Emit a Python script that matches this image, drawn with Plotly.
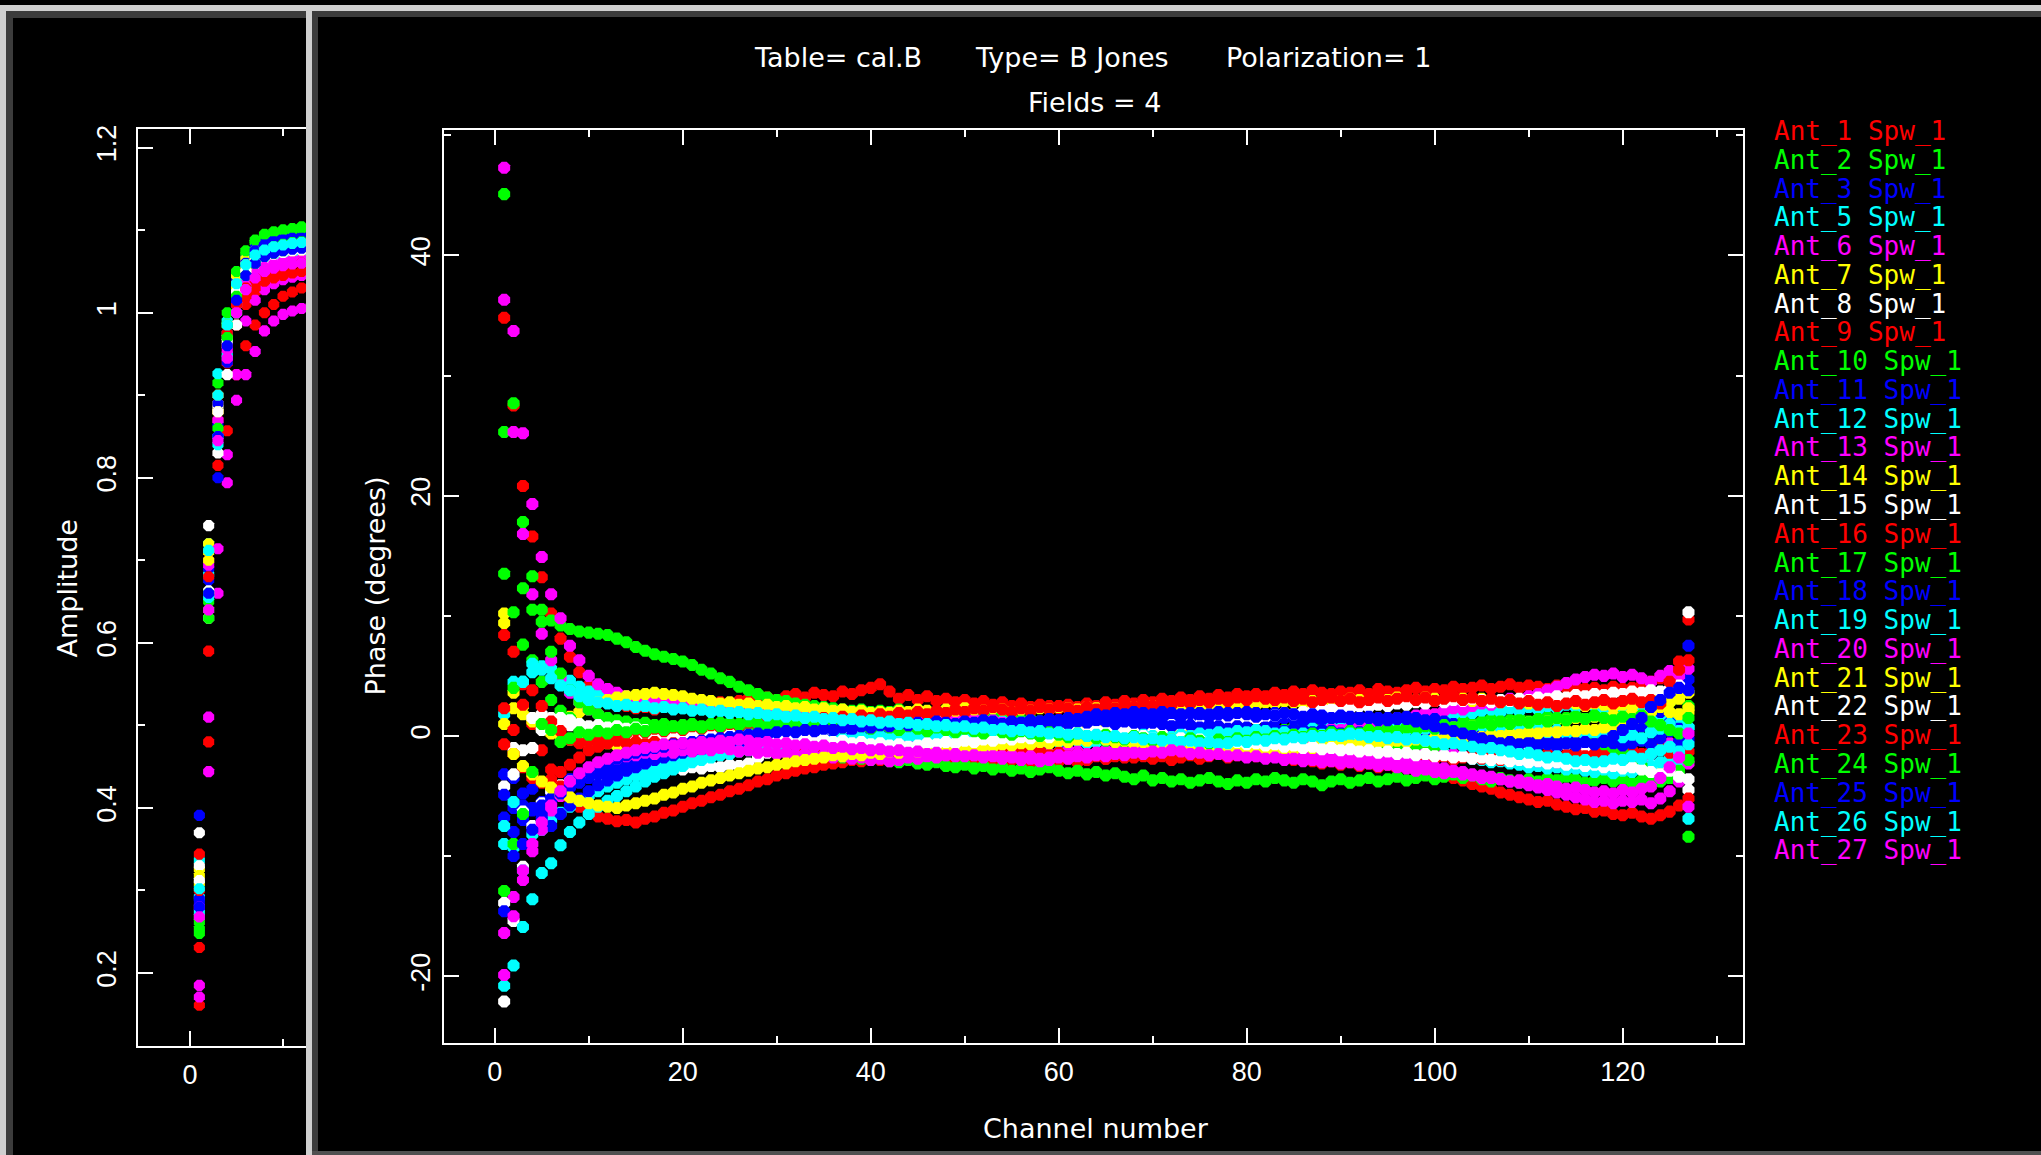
import plotly.graph_objects as go

FIG_W, FIG_H = 2041, 1155

# ---------------- data ----------------
channels = list(range(1, 128))
amp_channels = list(range(1, 14))

antenna_names = ["Ant_1", "Ant_2", "Ant_3", "Ant_5", "Ant_6", "Ant_7", "Ant_8", "Ant_9",
                 "Ant_10", "Ant_11", "Ant_12", "Ant_13", "Ant_14", "Ant_15", "Ant_16",
                 "Ant_17", "Ant_18", "Ant_19", "Ant_20", "Ant_21", "Ant_22", "Ant_23",
                 "Ant_24", "Ant_25", "Ant_26", "Ant_27"]
spw_label = "Spw_1"
antenna_colors = ["#ff0000", "#00ff00", "#0000ff", "#00ffff", "#ff00ff", "#ffff00", "#ffffff",
                  "#ff0000", "#00ff00", "#0000ff", "#00ffff", "#ff00ff", "#ffff00", "#ffffff",
                  "#ff0000", "#00ff00", "#0000ff", "#00ffff", "#ff00ff", "#ffff00", "#ffffff",
                  "#ff0000", "#00ff00", "#0000ff", "#00ffff", "#ff00ff"]

phase_ant01 = [34.8, 27.5, 20.8, 16.6, 13.2, 10.2, 8.1, 6.6, 5.3, 4.2,
               3.5, 3.0, 2.7, 2.5, 2.3, 2.4, 2.2, 2.5, 2.3, 2.6,
               2.4, 2.7, 2.5, 2.8, 2.6, 2.9, 3.1, 2.8, 3.2, 3.0,
               3.3, 3.5, 3.2, 3.6, 3.4, 3.3, 3.7, 3.5, 3.8, 4.0,
               4.3, 3.7, 3.1, 3.4, 3.0, 3.3, 2.9, 3.1, 2.8, 3.0,
               2.7, 2.9, 2.6, 2.8, 2.5, 2.7, 2.4, 2.6, 2.5, 2.3,
               2.6, 2.4, 2.7, 2.5, 2.8, 2.6, 2.9, 2.7, 3.0, 2.8,
               3.1, 2.9, 3.2, 3.0, 3.3, 3.1, 3.4, 3.2, 3.5, 3.3,
               3.5, 3.3, 3.6, 3.4, 3.7, 3.5, 3.8, 3.6, 3.5, 3.7,
               3.6, 3.8, 3.5, 3.9, 3.7, 3.6, 3.8, 4.0, 3.7, 3.9,
               3.8, 4.1, 3.9, 4.0, 4.2, 3.9, 4.1, 4.3, 4.0, 4.2,
               4.1, 3.9, 4.2, 4.0, 4.1, 3.9, 4.0, 3.8, 4.1, 3.9,
               4.0, 4.2, 4.5, 4.8, 5.3, 6.2, 9.7]
phase_ant02 = [45.1, 27.7, 17.8, 13.3, 10.5, 9.6, 9.2, 8.9, 8.7, 8.6,
               8.5, 8.4, 8.1, 7.8, 7.4, 7.1, 6.8, 6.6, 6.4, 6.2,
               5.9, 5.5, 5.2, 4.8, 4.5, 4.1, 3.8, 3.5, 3.2, 3.0,
               2.9, 2.7, 2.6, 2.5, 2.4, 2.3, 2.2, 2.1, 2.2, 2.0,
               2.1, 2.0, 2.2, 1.9, 2.0, 1.8, 1.9, 1.7, 1.8, 1.6,
               1.7, 1.5, 1.6, 1.4, 1.5, 1.3, 1.4, 1.2, 1.3, 1.1,
               1.2, 1.0, 1.1, 0.9, 1.0, 0.8, 0.9, 0.7, 0.8, 0.6,
               0.7, 0.5, 0.6, 0.4, 0.5, 0.3, 0.4, 0.6, 0.3, 0.5,
               0.4, 0.6, 0.3, 0.5, 0.7, 0.4, 0.6, 0.8, 0.5, 0.7,
               0.9, 0.6, 0.8, 1.0, 0.7, 0.9, 1.1, 0.8, 1.0, 1.2,
               0.9, 1.1, 1.3, 1.0, 1.2, 1.4, 1.1, 1.3, 1.5, 1.2,
               1.4, 1.6, 1.3, 1.5, 1.7, 1.4, 1.6, 1.8, 2.0, 1.7,
               1.9, 2.2, 2.0, 2.4, 2.8, 3.2, 2.5]
phase_ant03 = [-3.2, -6.0, -7.0, -4.4, -5.5, -4.8, -4.2, -3.6, -3.2, -2.9,
               -2.6, -2.3, -2.0, -1.8, -1.6, -1.4, -1.5, -1.3, -1.2, -1.1,
               -1.0, -0.9, -0.8, -0.9, -0.7, -0.6, -0.5, -0.6, -0.4, -0.3,
               -0.2, -0.3, -0.1, 0.0, 0.1, 0.0, 0.2, 0.3, 0.2, 0.4,
               0.5, 0.4, 0.6, 0.5, 0.7, 0.6, 0.8, 0.7, 0.9, 0.8,
               1.0, 0.9, 1.1, 1.0, 1.2, 1.1, 1.3, 1.2, 1.4, 1.3,
               1.5, 1.4, 1.6, 1.5, 1.7, 1.6, 1.5, 1.7, 1.6, 1.4,
               1.6, 1.5, 1.7, 1.5, 1.4, 1.6, 1.5, 1.3, 1.5, 1.4,
               1.6, 1.4, 1.3, 1.5, 1.4, 1.2, 1.4, 1.3, 1.5, 1.3,
               1.2, 1.4, 1.3, 1.1, 1.3, 1.2, 1.0, 1.2, 1.1, 0.9,
               0.8, 0.6, 0.4, 0.2, 0.0, -0.2, -0.3, -0.1, -0.4, -0.2,
               -0.5, -0.3, -0.6, -0.4, -0.7, -0.5, -0.3, -0.6, -0.4, -0.2,
               0.3, 0.8, 1.4, 1.0, 3.8, 4.2, 4.7]
phase_ant05 = [1.8, 4.5, 4.5, 5.3, 5.8, 5.6, 5.1, 4.6, 4.1, 3.7,
               3.4, 3.1, 2.9, 2.8, 2.7, 2.5, 2.6, 2.4, 2.5, 2.3,
               2.4, 2.2, 2.3, 2.1, 2.2, 2.0, 2.1, 1.9, 2.0, 1.8,
               1.9, 2.0, 1.8, 1.9, 1.7, 1.8, 1.9, 1.7, 1.8, 1.6,
               1.7, 1.5, 1.6, 1.7, 1.5, 1.6, 1.4, 1.5, 1.3, 1.4,
               1.2, 1.3, 1.1, 1.2, 1.0, 1.1, 0.9, 1.0, 0.8, 0.9,
               0.7, 0.8, 0.6, 0.7, 0.5, 0.6, 0.4, 0.5, 0.3, 0.4,
               0.2, 0.3, 0.1, 0.2, 0.0, 0.1, -0.1, 0.0, 0.2, 0.1,
               0.3, 0.2, 0.4, 0.3, 0.5, 0.4, 0.6, 0.5, 0.7, 0.6,
               0.8, 0.7, 0.9, 1.0, 1.2, 1.1, 1.3, 1.4, 1.6, 1.5,
               1.7, 1.8, 2.0, 1.9, 2.1, 2.2, 2.0, 2.3, 2.1, 2.4,
               2.2, 2.5, 2.3, 2.6, 2.4, 2.7, 2.5, 2.3, 2.6, 2.4,
               2.2, 2.0, 1.7, 1.4, 1.2, 1.0, 0.7]
phase_ant06 = [47.3, 33.7, 25.2, 19.3, 14.9, 11.8, 9.8, 7.5, 6.3, 5.0,
               4.3, 3.9, 3.6, 3.3, 3.1, 3.2, 3.0, 2.9, 3.1, 2.8,
               2.9, 2.7, 2.8, 2.6, 2.7, 2.5, 2.6, 2.4, 2.5, 2.3,
               2.4, 2.2, 2.3, 2.1, 2.2, 2.0, 2.1, 1.9, 2.0, 1.8,
               1.9, 1.7, 1.8, 1.6, 1.7, 1.5, 1.6, 1.4, 1.5, 1.3,
               1.4, 1.2, 1.3, 1.1, 1.2, 1.0, 1.1, 0.9, 1.0, 0.8,
               0.9, 0.7, 0.8, 0.6, 0.7, 0.5, 0.6, 0.4, 0.5, 0.3,
               0.4, 0.2, 0.3, 0.1, 0.2, 0.0, 0.1, -0.1, 0.0, -0.2,
               -0.1, 0.1, 0.0, 0.2, 0.1, 0.3, 0.2, 0.4, 0.6, 0.5,
               0.7, 0.9, 1.1, 1.0, 1.3, 1.5, 1.4, 1.7, 1.9, 1.8,
               2.1, 2.3, 2.2, 2.5, 2.7, 2.6, 2.9, 3.1, 3.0, 3.3,
               3.5, 3.8, 4.1, 4.4, 4.7, 4.9, 5.1, 5.0, 5.2, 4.9,
               5.1, 4.8, 4.5, 5.0, 5.4, 5.0, 5.6]
phase_ant07 = [10.2, 3.6, 2.5, 1.5, 1.0, 0.8, 1.2, 1.6, 2.0, 2.5,
               2.8, 3.0, 3.2, 3.3, 3.4, 3.5, 3.6, 3.5, 3.4, 3.3,
               3.1, 3.0, 2.9, 2.7, 2.8, 2.6, 2.7, 2.5, 2.6, 2.4,
               2.5, 2.3, 2.4, 2.2, 2.3, 2.1, 2.2, 2.0, 2.1, 1.9,
               2.0, 1.9, 2.1, 2.0, 2.2, 2.1, 2.0, 2.2, 2.1, 2.3,
               2.2, 2.1, 2.3, 2.2, 2.0, 2.2, 2.1, 2.3, 2.2, 2.4,
               2.3, 2.2, 2.4, 2.3, 2.1, 2.3, 2.2, 2.4, 2.3, 2.5,
               2.4, 2.3, 2.5, 2.4, 2.6, 2.5, 2.4, 2.6, 2.5, 2.7,
               2.6, 2.8, 2.7, 2.9, 2.8, 2.7, 2.9, 2.8, 3.0, 2.9,
               3.1, 3.0, 2.9, 3.1, 3.0, 3.2, 3.1, 3.0, 3.2, 3.1,
               3.0, 3.2, 3.1, 2.9, 3.1, 3.0, 2.8, 3.0, 2.9, 2.7,
               2.9, 2.8, 2.6, 2.8, 2.7, 2.5, 2.7, 2.6, 2.4, 2.6,
               2.5, 2.8, 3.1, 3.5, 2.8, 3.2, 3.6]
phase_ant08 = [-22.1, -15.4, -10.9, -7.5, -5.6, -4.6, -4.1, -3.8, -3.6, -3.4,
               -3.3, -3.1, -3.2, -3.0, -2.9, -3.0, -2.8, -2.9, -2.7, -2.8,
               -2.6, -2.7, -2.5, -2.6, -2.4, -2.5, -2.3, -1.8, -1.4, -1.1,
               -0.9, -0.8, -0.6, -0.7, -0.5, -0.4, -0.5, -0.3, -0.4, -0.2,
               -0.3, -0.1, -0.2, 0.0, -0.1, 0.1, 0.0, 0.2, 0.1, 0.3,
               0.2, 0.4, 0.3, 0.5, 0.4, 0.6, 0.5, 0.4, 0.6, 0.5,
               0.7, 0.6, 0.5, 0.7, 0.6, 0.4, 0.6, 0.5, 0.7, 0.6,
               0.5, 0.7, 0.6, 0.4, 0.6, 0.5, 0.3, 0.5, 0.4, 0.2,
               0.4, 0.3, 0.1, 0.3, 0.2, 0.0, 0.2, 0.1, -0.1, 0.1,
               0.0, -0.2, 0.0, -0.1, -0.3, -0.1, -0.2, -0.4, -0.2, -0.3,
               -0.5, -0.3, -0.4, -0.6, -0.4, -0.5, -0.7, -0.5, -0.6, -0.8,
               -0.6, -0.7, -0.9, -0.7, -0.8, -1.0, -0.8, -0.9, -1.1, -1.3,
               -1.6, -2.0, -2.4, -2.8, -3.2, -3.4, -4.5]
phase_ant09 = [8.4, 7.0, 4.3, 1.0, -1.2, -2.8, -4.2, -5.2, -5.9, -6.4,
               -6.7, -6.9, -7.1, -7.0, -7.2, -6.9, -6.7, -6.4, -6.2, -5.9,
               -5.6, -5.4, -5.1, -4.9, -4.6, -4.4, -4.1, -3.8, -3.6, -3.3,
               -3.1, -2.9, -2.7, -2.6, -2.4, -2.3, -2.2, -2.0, -2.1, -1.9,
               -2.0, -1.8, -2.1, -1.9, -2.2, -2.0, -1.8, -2.1, -1.9, -2.2,
               -2.0, -1.8, -2.1, -2.3, -2.0, -1.9, -2.2, -2.0, -1.8, -2.1,
               -1.9, -2.2, -2.0, -1.7, -1.9, -1.6, -1.8, -1.5, -1.7, -1.4,
               -1.6, -1.3, -1.5, -1.2, -1.4, -1.3, -1.1, -1.4, -1.2, -1.5,
               -1.4, -1.7, -1.5, -1.8, -2.0, -1.8, -2.1, -2.3, -2.1, -2.4,
               -2.2, -2.5, -2.3, -2.6, -2.4, -2.7, -2.5, -2.8, -2.9, -3.1,
               -3.3, -3.5, -3.7, -4.0, -4.2, -4.4, -4.7, -4.9, -5.1, -5.3,
               -5.5, -5.4, -5.7, -5.9, -6.1, -6.0, -6.3, -6.2, -6.5, -6.6,
               -6.4, -6.7, -6.9, -6.6, -6.3, -5.8, -5.2]
phase_ant10 = [25.3, 10.3, 7.6, 6.3, 4.5, 3.0, 2.1, 1.5, 1.0, 0.7,
               0.5, 0.3, 0.1, -0.1, -0.2, -0.4, -0.3, -0.5, -0.6, -0.5,
               -0.7, -0.8, -0.6, -0.9, -1.0, -0.8, -1.1, -1.2, -1.0, -1.3,
               -1.4, -1.2, -1.5, -1.6, -1.4, -1.7, -1.8, -1.6, -1.9, -2.0,
               -1.8, -2.1, -2.2, -2.0, -2.3, -2.4, -2.2, -2.5, -2.6, -2.4,
               -2.7, -2.5, -2.8, -2.6, -2.9, -2.7, -3.0, -2.8, -2.6, -2.9,
               -3.1, -2.9, -3.2, -3.0, -3.3, -3.1, -3.4, -3.6, -3.3, -3.7,
               -3.5, -3.8, -3.6, -3.9, -3.7, -3.5, -3.8, -4.0, -3.7, -3.9,
               -3.6, -3.8, -3.5, -3.7, -3.9, -3.6, -3.8, -4.1, -3.8, -3.6,
               -3.9, -3.7, -3.5, -3.8, -3.6, -3.4, -3.7, -3.5, -3.3, -3.6,
               -3.4, -3.2, -3.5, -3.3, -3.6, -3.8, -3.5, -3.7, -3.9, -3.6,
               -3.8, -3.5, -3.7, -3.4, -3.6, -3.9, -3.7, -3.5, -3.8, -3.6,
               -3.9, -3.7, -3.4, -3.8, -3.5, -3.6, -8.4]
phase_ant11 = [-6.8, -8.0, -5.8, -6.2, -5.8, -5.2, -4.8, -4.3, -3.9, -3.5,
               -3.2, -2.9, -2.6, -2.4, -2.1, -1.9, -1.8, -1.6, -1.4, -1.3,
               -1.2, -1.1, -1.0, -0.9, -0.8, -0.7, -0.6, -0.5, -0.6, -0.4,
               -0.3, -0.4, -0.2, -0.3, -0.1, -0.2, 0.0, -0.1, 0.1, 0.0,
               0.2, 0.1, 0.3, 0.2, 0.4, 0.3, 0.5, 0.4, 0.6, 0.5,
               0.7, 0.6, 0.8, 0.7, 0.9, 0.8, 1.0, 0.9, 1.1, 1.0,
               1.2, 1.1, 1.3, 1.2, 1.4, 1.3, 1.5, 1.4, 1.6, 1.5,
               1.7, 1.6, 1.8, 1.7, 1.9, 1.8, 2.0, 1.9, 1.8, 2.0,
               1.9, 1.7, 1.9, 1.8, 1.6, 1.8, 1.7, 1.5, 1.7, 1.6,
               1.4, 1.6, 1.5, 1.3, 1.5, 1.4, 1.6, 1.5, 1.3, 1.4,
               1.2, 1.0, 0.8, 0.6, 0.4, 0.5, 0.3, 0.1, 0.2, 0.0,
               0.2, 0.0, -0.2, 0.1, -0.1, 0.2, 0.4, 0.7, 1.0, 1.3,
               1.6, 0.9, 0.5, 2.0, 1.1, 0.6, 7.5]
phase_ant12 = [-9.0, -9.3, -11.2, -8.2, -7.8, -7.0, -6.4, -5.9, -5.4, -5.0,
               -4.6, -4.2, -3.9, -3.6, -3.3, -3.0, -2.8, -2.5, -2.3, -2.1,
               -1.9, -1.7, -1.6, -1.4, -1.3, -1.2, -1.1, -1.0, -0.9, -1.0,
               -0.8, -0.9, -0.7, -0.8, -0.6, -0.7, -0.5, -0.6, -0.8, -0.7,
               -0.9, -0.8, -0.6, -0.7, -0.9, -0.8, -0.6, -0.7, -0.5, -0.6,
               -0.8, -0.7, -0.5, -0.6, -0.4, -0.5, -0.7, -0.6, -0.4, -0.5,
               -0.3, -0.4, -0.6, -0.5, -0.3, -0.4, -0.2, -0.3, -0.5, -0.4,
               -0.2, -0.3, -0.1, -0.2, -0.4, -0.3, -0.1, -0.2, 0.0, -0.1,
               -0.3, -0.2, 0.0, -0.1, -0.3, -0.2, -0.4, -0.3, -0.5, -0.4,
               -0.6, -0.5, -0.7, -0.6, -0.8, -0.7, -0.9, -1.0, -1.2, -1.3,
               -1.4, -1.6, -1.7, -1.9, -2.0, -2.2, -2.1, -2.3, -2.4, -2.6,
               -2.5, -2.7, -2.6, -2.8, -2.7, -2.9, -3.0, -2.8, -3.1, -2.9,
               -3.0, -2.7, -2.5, -2.2, -1.8, -2.4, -6.9]
phase_ant13 = [36.3, 25.3, 16.8, 11.8, 8.5, 6.3, 4.8, 3.6, 2.8, 2.2,
               1.8, 1.4, 1.1, 0.9, 0.7, 0.6, 0.4, 0.5, 0.3, 0.4,
               0.2, 0.3, 0.1, 0.2, 0.0, 0.1, -0.1, 0.0, -0.2, -0.1,
               -0.3, -0.2, -0.4, -0.3, -0.5, -0.4, -0.6, -0.5, -0.7, -0.6,
               -0.8, -0.7, -0.9, -0.8, -1.0, -0.9, -1.1, -1.0, -1.2, -1.1,
               -1.3, -1.2, -1.4, -1.3, -1.1, -1.2, -1.4, -1.3, -1.5, -1.4,
               -1.2, -1.3, -1.5, -1.4, -1.2, -1.3, -1.1, -1.2, -1.0, -1.1,
               -0.9, -1.0, -0.8, -0.9, -0.7, -0.8, -0.6, -0.7, -0.5, -0.6,
               -0.4, -0.5, -0.7, -0.6, -0.8, -0.7, -0.9, -0.8, -1.0, -0.9,
               -1.1, -1.0, -1.2, -1.1, -1.3, -1.2, -1.4, -1.3, -1.5, -1.4,
               -1.6, -1.5, -1.7, -1.6, -1.8, -1.7, -1.9, -1.8, -2.0, -1.9,
               -2.1, -2.0, -2.2, -2.1, -1.9, -2.0, -1.8, -1.9, -1.7, -1.8,
               -1.6, -1.9, -1.5, -1.1, -0.6, -1.2, -2.3]
phase_ant14 = [9.4, 2.3, 1.8, 1.2, 0.6, 0.2, 0.0, -0.3, -0.5, -0.6,
               -0.7, -0.6, -0.8, -0.7, -0.5, -0.6, -0.4, -0.5, -0.3, -0.4,
               -0.2, -0.3, -0.1, -0.2, 0.0, -0.1, 0.1, 0.0, 0.2, 0.1,
               0.3, 0.2, 0.4, 0.3, 0.5, 0.4, 0.6, 0.5, 0.4, 0.6,
               0.5, 0.3, 0.5, 0.4, 0.2, 0.4, 0.3, 0.1, 0.3, 0.2,
               0.0, 0.2, 0.1, -0.1, 0.1, 0.0, 0.2, 0.1, 0.3, 0.2,
               0.4, 0.3, 0.5, 0.4, 0.6, 0.5, 0.7, 0.6, 0.8, 0.7,
               0.9, 0.8, 0.6, 0.7, 0.5, 0.6, 0.4, 0.5, 0.3, 0.4,
               0.2, 0.3, 0.1, 0.2, 0.0, 0.1, -0.1, 0.0, 0.2, 0.1,
               0.3, 0.2, 0.4, 0.3, 0.5, 0.4, 0.6, 0.5, 0.7, 0.6,
               0.8, 0.7, 0.9, 0.8, 1.0, 0.9, 1.1, 1.0, 1.2, 1.1,
               1.3, 1.2, 1.4, 1.3, 1.5, 1.4, 1.6, 1.5, 1.7, 1.6,
               1.9, 1.5, 2.1, 2.5, 2.0, 1.8, 2.3]
phase_ant15 = [-4.2, -1.0, -1.2, 1.5, 1.8, 1.5, 1.2, 0.9, 0.7, 0.5,
               0.4, 0.2, 0.1, 0.0, -0.1, 0.0, -0.2, -0.1, -0.3, -0.2,
               -0.4, -0.3, -0.5, -0.4, -0.6, -0.5, -0.4, -0.6, -0.5, -0.3,
               -0.4, -0.2, -0.3, -0.1, -0.2, 0.0, -0.1, 0.1, 0.0, 0.2,
               0.1, 0.0, 0.2, 0.1, -0.1, 0.1, 0.0, 0.2, 0.1, 0.0,
               0.1, -0.1, 0.0, 0.2, 0.1, -0.1, 0.0, 0.2, 0.1, 0.3,
               0.2, 0.4, 0.3, 0.5, 0.4, 0.6, 0.5, 0.7, 0.6, 0.8,
               0.7, 0.9, 0.8, 1.0, 0.9, 1.1, 1.0, 1.2, 1.3, 1.5,
               1.4, 1.6, 1.7, 1.9, 1.8, 2.0, 2.1, 2.3, 2.2, 2.4,
               2.3, 2.5, 2.4, 2.6, 2.5, 2.7, 2.6, 2.8, 2.7, 2.9,
               2.8, 3.0, 2.9, 3.1, 3.0, 2.8, 3.0, 2.9, 3.1, 3.0,
               3.2, 3.1, 3.3, 3.2, 3.4, 3.3, 3.5, 3.4, 3.6, 3.5,
               3.7, 3.6, 3.8, 3.7, 3.9, 4.2, 10.3]
phase_ant16 = [2.3, -1.5, -2.6, -3.5, -3.9, -3.6, -3.0, -2.4, -1.8, -1.2,
               -0.9, -0.6, -0.4, -0.6, -0.5, -0.7, -0.5, -0.8, -0.6, -0.9,
               -0.7, -1.0, -0.8, -1.1, -0.9, -1.2, -1.0, -1.3, -1.1, -1.4,
               -1.2, -1.5, -1.3, -1.6, -1.4, -1.7, -1.5, -1.3, -1.6, -1.4,
               -1.7, -1.5, -1.3, -1.6, -1.4, -1.2, -1.5, -1.3, -1.6, -1.4,
               -1.2, -1.5, -1.3, -1.1, -1.4, -1.2, -1.5, -1.3, -1.6, -1.4,
               -1.7, -1.5, -1.8, -1.6, -1.9, -1.7, -1.5, -1.8, -1.6, -1.9,
               -1.7, -2.0, -1.8, -1.6, -1.9, -1.7, -1.5, -1.8, -1.6, -1.4,
               -1.7, -1.5, -1.3, -1.6, -1.4, -1.2, -1.5, -1.3, -1.1, -1.4,
               -1.2, -1.5, -1.3, -1.6, -1.4, -1.7, -1.5, -1.8, -1.6, -1.9,
               -1.7, -2.0, -1.8, -1.6, -1.9, -1.7, -2.0, -1.8, -1.6, -1.9,
               -1.7, -1.5, -1.8, -1.6, -1.4, -1.7, -1.5, -1.3, -1.6, -1.4,
               -1.2, -1.5, -1.3, -1.0, -1.4, -1.1, -1.3]
phase_ant17 = [13.5, 4.0, 12.3, 10.5, 9.5, 7.0, 5.2, 3.8, 2.8, 2.2,
               1.8, 1.5, 1.3, 1.2, 1.0, 1.1, 0.9, 1.0, 0.8, 0.9,
               1.0, 0.8, 0.9, 1.1, 0.9, 1.0, 0.8, 1.1, 0.9, 1.2,
               1.0, 1.1, 0.9, 1.2, 1.0, 0.8, 1.1, 0.9, 1.2, 1.0,
               0.8, 1.0, 0.7, 0.9, 0.6, 0.8, 0.5, 0.7, 0.4, 0.6,
               0.3, 0.5, 0.2, 0.4, 0.1, 0.3, 0.0, 0.2, -0.1, 0.1,
               -0.2, 0.0, -0.3, -0.1, -0.4, -0.2, -0.5, -0.3, -0.6, -0.4,
               -0.7, -0.5, -0.8, -0.6, -0.9, -0.7, -1.0, -0.8, -1.1, -0.9,
               -1.2, -1.0, -1.3, -1.1, -1.4, -1.2, -1.0, -1.3, -1.1, -0.9,
               -1.2, -1.0, -0.8, -1.1, -0.9, -0.7, -1.0, -0.8, -0.6, -0.9,
               -0.7, -0.5, -0.8, -0.6, -0.4, -0.7, -0.5, -0.3, -0.6, -0.4,
               -0.2, -0.5, -0.3, -0.1, -0.4, -0.2, -0.5, -0.7, -1.0, -1.4,
               -1.8, -2.5, -3.8, -3.2, -3.5, -2.9, -2.0]
phase_ant18 = [-4.9, -3.5, -4.8, -6.0, -7.0, -7.5, -6.5, -5.8, -5.2, -4.6,
               -4.1, -3.7, -3.3, -2.9, -2.6, -2.3, -2.0, -1.8, -1.6, -1.4,
               -1.3, -1.2, -1.0, -1.1, -0.9, -0.8, -0.9, -0.7, -0.6, -0.7,
               -0.5, -0.4, -0.5, -0.3, -0.2, -0.3, -0.1, 0.0, -0.1, 0.1,
               0.0, 0.2, 0.1, 0.3, 0.2, 0.4, 0.3, 0.5, 0.4, 0.6,
               0.5, 0.7, 0.6, 0.8, 0.7, 0.9, 0.8, 1.0, 0.9, 1.1,
               1.0, 1.2, 1.1, 1.3, 1.2, 1.0, 1.2, 1.1, 0.9, 1.1,
               1.0, 0.8, 1.0, 0.9, 0.7, 0.9, 0.8, 0.6, 0.8, 0.7,
               0.5, 0.7, 0.6, 0.4, 0.6, 0.5, 0.3, 0.5, 0.4, 0.2,
               0.4, 0.3, 0.1, 0.3, 0.2, 0.0, 0.2, 0.1, -0.1, 0.1,
               0.0, -0.2, 0.0, -0.1, -0.3, -0.1, -0.2, -0.4, -0.2, -0.3,
               -0.5, -0.3, -0.4, -0.6, -0.4, -0.5, -0.7, -0.5, -0.6, -0.8,
               -0.6, -0.4, -0.7, -0.2, 0.4, -0.5, -0.3]
phase_ant19 = [-20.8, -19.1, -15.9, -13.6, -11.4, -10.6, -9.1, -8.0, -7.2, -6.5,
               -5.9, -5.4, -5.0, -4.6, -4.2, -3.8, -3.4, -3.1, -2.8, -2.5,
               -2.2, -2.0, -1.8, -1.6, -1.5, -1.3, -1.2, -1.0, -0.9, -0.8,
               -0.7, -0.6, -0.4, -0.5, -0.3, -0.4, -0.2, -0.3, -0.1, -0.2,
               0.0, -0.1, 0.1, 0.0, -0.2, -0.1, 0.1, 0.0, -0.2, -0.1,
               0.0, -0.2, -0.1, 0.1, 0.0, -0.2, -0.1, 0.0, -0.2, -0.3,
               -0.1, -0.2, 0.0, -0.1, -0.3, -0.2, 0.0, -0.1, 0.1, 0.0,
               -0.2, -0.1, 0.1, 0.0, 0.2, 0.1, 0.3, 0.2, 0.4, 0.3,
               0.5, 0.4, 0.2, 0.3, 0.1, 0.2, 0.0, 0.1, -0.1, 0.0,
               0.2, 0.1, 0.3, 0.2, 0.4, 0.3, 0.5, 0.4, 0.6, 0.5,
               0.7, 0.6, 0.8, 0.7, 0.9, 0.6, 0.8, 0.5, 0.7, 0.4,
               0.6, 0.3, 0.5, 0.2, 0.4, 0.1, 0.3, 0.0, 0.2, -0.1,
               0.1, -0.2, 0.3, 0.6, 1.0, 0.4, 0.7]
phase_ant20 = [-16.4, -13.4, -11.2, -9.6, -7.8, -6.2, -5.0, -4.0, -3.3, -2.8,
               -2.4, -2.1, -1.9, -1.7, -1.6, -1.4, -1.5, -1.3, -1.4, -1.2,
               -1.3, -1.1, -1.2, -1.0, -1.1, -1.3, -1.2, -1.4, -1.3, -1.5,
               -1.4, -1.6, -1.5, -1.7, -1.6, -1.8, -1.7, -1.9, -1.8, -2.0,
               -1.9, -2.1, -2.0, -1.8, -1.9, -1.7, -1.8, -1.6, -1.7, -1.5,
               -1.6, -1.4, -1.5, -1.7, -1.6, -1.8, -1.7, -1.9, -1.8, -1.6,
               -1.7, -1.5, -1.6, -1.4, -1.5, -1.3, -1.4, -1.2, -1.3, -1.1,
               -1.2, -1.0, -1.1, -0.9, -1.0, -0.8, -0.9, -1.1, -1.0, -1.2,
               -1.1, -1.3, -1.2, -1.4, -1.3, -1.5, -1.4, -1.6, -1.5, -1.7,
               -1.6, -1.8, -1.7, -1.9, -2.0, -2.2, -2.1, -2.3, -2.4, -2.6,
               -2.7, -2.9, -3.0, -3.2, -3.3, -3.5, -3.6, -3.8, -3.9, -4.1,
               -4.3, -4.5, -4.7, -4.9, -5.1, -5.3, -5.5, -5.4, -5.6, -5.4,
               -5.5, -5.3, -5.6, -5.2, -4.6, -3.8, -5.9]
phase_ant21 = [1.0, -1.5, -2.5, -3.2, -3.8, -4.3, -4.8, -5.1, -5.4, -5.6,
               -5.8, -5.9, -6.0, -5.8, -5.6, -5.4, -5.2, -4.9, -4.7, -4.4,
               -4.2, -3.9, -3.7, -3.5, -3.3, -3.1, -2.9, -2.7, -2.6, -2.4,
               -2.3, -2.1, -2.0, -1.9, -1.8, -1.6, -1.7, -1.5, -1.6, -1.4,
               -1.5, -1.3, -1.4, -1.2, -1.3, -1.1, -1.2, -1.0, -1.1, -0.9,
               -1.0, -0.8, -0.9, -0.7, -0.8, -0.6, -0.7, -0.5, -0.6, -0.4,
               -0.5, -0.3, -0.4, -0.2, -0.3, -0.5, -0.4, -0.6, -0.5, -0.7,
               -0.6, -0.8, -0.7, -0.9, -0.8, -1.0, -0.9, -1.1, -1.0, -1.2,
               -1.1, -1.3, -1.2, -1.0, -1.1, -0.9, -1.0, -0.8, -0.9, -0.7,
               -0.8, -0.6, -0.7, -0.5, -0.6, -0.4, -0.5, -0.3, -0.4, -0.2,
               -0.3, -0.1, -0.2, 0.0, -0.1, 0.1, 0.0, 0.2, 0.1, 0.3,
               0.2, 0.4, 0.3, 0.5, 0.4, 0.6, 0.5, 0.7, 0.6, 0.9,
               1.2, 1.6, 2.0, 2.4, 2.9, 3.1, 2.0]
phase_ant22 = [-13.9, -3.2, -6.3, -1.0, 0.5, 1.2, 1.5, 1.3, 1.0, 0.8,
               0.9, 0.7, 0.8, 0.6, 0.7, 0.5, 0.6, 0.4, 0.5, 0.3,
               0.4, 0.2, 0.3, 0.1, 0.2, 0.0, 0.1, -0.1, 0.0, -0.2,
               -0.1, -0.3, -0.2, -0.4, -0.3, -0.5, -0.4, -0.6, -0.5, -0.7,
               -0.6, -0.8, -0.7, -0.9, -0.8, -0.6, -0.7, -0.5, -0.6, -0.4,
               -0.5, -0.3, -0.4, -0.2, -0.3, -0.1, -0.2, 0.0, -0.1, 0.1,
               0.0, 0.2, 0.1, 0.3, 0.2, 0.0, 0.1, -0.1, 0.0, -0.2,
               -0.1, -0.3, -0.2, -0.4, -0.3, -0.5, -0.4, -0.6, -0.5, -0.7,
               -0.6, -0.8, -0.7, -0.9, -0.8, -1.0, -0.9, -1.1, -1.0, -1.2,
               -1.1, -1.3, -1.2, -1.4, -1.3, -1.5, -1.4, -1.6, -1.5, -1.7,
               -1.6, -1.8, -1.7, -1.9, -1.8, -2.0, -1.9, -2.1, -2.0, -2.2,
               -2.1, -2.3, -2.2, -2.4, -2.3, -2.5, -2.4, -2.6, -2.5, -2.7,
               -2.6, -2.8, -3.0, -3.2, -2.9, -3.4, -3.6]
phase_ant23 = [-0.7, 0.5, 2.6, 3.8, 2.5, 1.2, 0.4, -0.3, -0.6, -0.4,
               -0.2, 0.1, 0.3, 0.2, 0.5, 0.3, 0.6, 0.4, 0.7, 0.5,
               0.8, 0.6, 0.9, 0.7, 1.0, 0.8, 1.1, 0.9, 1.2, 1.0,
               1.3, 1.1, 1.4, 1.2, 1.5, 1.3, 1.6, 1.4, 1.7, 1.5,
               1.8, 1.6, 1.9, 1.7, 2.0, 1.8, 2.1, 1.9, 2.2, 2.0,
               2.3, 2.1, 2.4, 2.2, 2.0, 2.3, 2.1, 2.4, 2.2, 2.5,
               2.3, 2.1, 2.4, 2.2, 2.5, 2.3, 2.6, 2.4, 2.7, 2.5,
               2.8, 2.6, 2.9, 2.7, 3.0, 2.8, 3.1, 2.9, 3.2, 3.0,
               3.3, 3.1, 3.0, 3.2, 2.9, 3.1, 2.8, 3.0, 3.2, 2.9,
               3.1, 2.8, 3.0, 3.2, 2.9, 3.1, 3.3, 3.0, 3.2, 2.9,
               3.1, 3.3, 3.0, 3.2, 2.9, 3.1, 2.8, 3.0, 2.7, 2.9,
               2.6, 2.8, 2.5, 2.7, 2.9, 2.6, 2.8, 3.0, 2.7, 2.9,
               3.1, 2.8, 3.0, 2.7, 4.5, 5.5, 6.3]
phase_ant24 = [-12.9, -9.0, -6.5, -3.0, 1.0, 0.5, -0.5, -0.2, 0.3, 0.1,
               0.4, 0.2, 0.5, 0.3, 0.6, 0.4, 0.7, 0.5, 0.8, 0.6,
               0.9, 0.7, 1.0, 0.8, 1.1, 0.9, 1.2, 1.0, 0.8, 1.1,
               0.9, 1.2, 1.0, 0.8, 1.1, 0.9, 0.7, 1.0, 0.8, 0.6,
               0.9, 0.7, 0.5, 0.8, 0.6, 0.4, 0.7, 0.5, 0.3, 0.6,
               0.4, 0.2, 0.5, 0.3, 0.1, 0.4, 0.2, 0.0, 0.3, 0.1,
               -0.1, 0.2, 0.0, -0.2, 0.1, -0.1, -0.3, 0.0, -0.2, -0.4,
               -0.1, -0.3, -0.5, -0.2, -0.4, -0.6, -0.3, -0.5, -0.2, -0.4,
               -0.1, -0.3, 0.0, -0.2, 0.1, -0.1, 0.2, 0.0, 0.3, 0.1,
               0.4, 0.2, 0.5, 0.3, 0.6, 0.4, 0.7, 0.5, 0.8, 0.6,
               0.9, 0.7, 1.0, 0.8, 1.1, 0.9, 1.2, 1.0, 1.3, 1.1,
               1.4, 1.2, 1.5, 1.3, 1.6, 1.4, 1.7, 1.5, 1.3, 1.6,
               1.4, 1.7, 1.2, 0.9, 0.5, 0.2, 1.5]
phase_ant25 = [-14.6, -10.0, -9.0, -7.8, -6.6, -5.6, -4.8, -4.1, -3.5, -3.0,
               -2.6, -2.2, -1.9, -1.6, -1.4, -1.2, -1.0, -0.9, -0.7, -0.6,
               -0.5, -0.4, -0.3, -0.2, -0.1, 0.0, 0.1, 0.2, 0.1, 0.3,
               0.4, 0.3, 0.5, 0.4, 0.6, 0.5, 0.7, 0.6, 0.8, 0.7,
               0.9, 0.8, 1.0, 0.9, 1.1, 1.0, 1.2, 1.1, 1.0, 1.2,
               1.1, 1.3, 1.2, 1.0, 1.2, 1.1, 1.3, 1.2, 1.4, 1.3,
               1.5, 1.4, 1.6, 1.8, 1.7, 1.9, 1.8, 2.0, 1.9, 1.8,
               2.0, 1.9, 1.7, 1.9, 1.8, 1.6, 1.8, 1.7, 1.9, 1.8,
               1.6, 1.8, 1.7, 1.9, 1.8, 1.6, 1.8, 1.7, 1.5, 1.7,
               1.6, 1.4, 1.6, 1.5, 1.3, 1.5, 1.4, 1.2, 1.0, 0.8,
               0.6, 0.4, 0.2, 0.0, -0.2, -0.4, -0.6, -0.5, -0.7, -0.6,
               -0.8, -0.7, -0.9, -0.6, -0.8, -0.5, -0.7, -0.4, 0.0, 0.5,
               1.0, 1.5, 2.4, 3.0, 3.6, 4.0, 3.8]
phase_ant26 = [-7.5, -5.5, 4.5, 6.0, 5.5, 4.8, 4.2, 3.8, 3.3, 3.0,
               2.8, 2.7, 2.5, 2.6, 2.4, 2.5, 2.3, 2.4, 2.2, 2.3,
               2.1, 2.2, 2.0, 2.1, 1.9, 2.0, 1.8, 1.9, 1.7, 1.8,
               1.6, 1.7, 1.5, 1.6, 1.4, 1.5, 1.3, 1.4, 1.2, 1.3,
               1.1, 1.2, 1.0, 1.1, 0.9, 1.0, 0.8, 0.9, 0.7, 0.8,
               0.6, 0.7, 0.5, 0.6, 0.4, 0.5, 0.3, 0.4, 0.2, 0.3,
               0.1, 0.2, 0.0, 0.1, -0.1, 0.0, -0.2, -0.1, -0.3, -0.2,
               -0.4, -0.3, -0.5, -0.4, -0.6, -0.5, -0.7, -0.6, -0.4, -0.5,
               -0.3, -0.4, -0.2, -0.3, -0.1, -0.2, 0.0, -0.1, 0.1, 0.0,
               0.2, 0.1, -0.1, 0.0, -0.2, -0.1, -0.3, -0.2, -0.4, -0.5,
               -0.7, -0.6, -0.8, -0.9, -1.1, -1.0, -1.2, -1.3, -1.5, -1.4,
               -1.6, -1.8, -1.7, -1.9, -2.1, -2.0, -2.2, -2.1, -1.9, -2.0,
               -1.7, -1.9, -1.5, -1.2, -0.9, -1.3, -0.7]
phase_ant27 = [-19.9, -15.0, -12.0, -9.0, -7.2, -5.8, -4.6, -3.8, -3.1, -2.6,
               -2.2, -1.9, -1.6, -1.4, -1.2, -1.0, -0.9, -0.7, -0.8, -0.6,
               -0.7, -0.5, -0.6, -0.4, -0.5, -0.3, -0.4, -0.6, -0.5, -0.7,
               -0.6, -0.8, -0.7, -0.9, -0.8, -1.0, -0.9, -1.1, -1.0, -1.2,
               -1.1, -1.3, -1.2, -1.4, -1.3, -1.5, -1.4, -1.6, -1.5, -1.7,
               -1.6, -1.8, -1.7, -1.9, -1.8, -2.0, -1.9, -2.1, -2.0, -1.8,
               -1.9, -1.7, -1.8, -1.6, -1.7, -1.5, -1.6, -1.4, -1.5, -1.3,
               -1.4, -1.2, -1.3, -1.5, -1.4, -1.6, -1.5, -1.7, -1.6, -1.8,
               -1.7, -1.9, -1.8, -2.0, -1.9, -2.1, -2.0, -2.2, -2.1, -2.3,
               -2.2, -2.4, -2.3, -2.5, -2.4, -2.6, -2.7, -2.9, -2.8, -3.0,
               -3.1, -3.0, -3.2, -3.3, -3.5, -3.4, -3.6, -3.8, -3.7, -3.9,
               -4.1, -4.0, -4.2, -4.4, -4.3, -4.5, -4.7, -4.6, -4.8, -4.5,
               -4.7, -4.4, -4.2, -3.5, -2.6, -1.8, 0.2]

amp_ant01 = [0.161, 0.480, 0.815, 0.857, 0.925, 0.960, 0.985, 1.000, 1.010, 1.020, 1.025, 1.030, 1.032]
amp_ant02 = [0.254, 0.640, 0.915, 0.990, 1.045, 1.070, 1.085, 1.092, 1.096, 1.100, 1.102, 1.104, 1.105]
amp_ant03 = [0.391, 0.676, 0.866, 0.970, 1.040, 1.065, 1.078, 1.085, 1.088, 1.090, 1.092, 1.093, 1.094]
amp_ant05 = [0.337, 0.720, 0.926, 0.990, 1.026, 1.045, 1.055, 1.060, 1.064, 1.066, 1.068, 1.070, 1.070]
amp_ant06 = [0.171, 0.444, 0.660, 0.794, 0.894, 0.925, 0.953, 0.978, 0.990, 0.998, 1.002, 1.005, 1.008]
amp_ant07 = [0.326, 0.720, 0.900, 0.985, 1.045, 1.065, 1.075, 1.080, 1.083, 1.085, 1.086, 1.087, 1.088]
amp_ant08 = [0.370, 0.742, 0.885, 0.960, 1.000, 1.040, 1.055, 1.062, 1.066, 1.068, 1.070, 1.071, 1.072]
amp_ant09 = [0.231, 0.590, 0.870, 0.939, 0.985, 1.010, 1.025, 1.035, 1.040, 1.045, 1.045, 1.048, 1.050]
amp_ant10 = [0.262, 0.650, 0.880, 1.000, 1.050, 1.075, 1.088, 1.095, 1.098, 1.100, 1.100, 1.102, 1.103]
amp_ant11 = [0.285, 0.700, 0.800, 0.940, 1.020, 1.060, 1.075, 1.082, 1.086, 1.088, 1.090, 1.090, 1.092]
amp_ant12 = [0.292, 0.683, 0.850, 0.946, 1.010, 1.040, 1.055, 1.062, 1.066, 1.068, 1.070, 1.071, 1.072]
amp_ant13 = [0.185, 0.510, 0.714, 0.828, 0.925, 0.990, 1.015, 1.028, 1.035, 1.040, 1.043, 1.045, 1.046]
amp_ant14 = [0.309, 0.710, 0.890, 0.975, 1.035, 1.058, 1.068, 1.073, 1.076, 1.078, 1.079, 1.080, 1.080]
amp_ant15 = [0.330, 0.663, 0.830, 0.925, 0.985, 1.030, 1.048, 1.056, 1.060, 1.062, 1.064, 1.065, 1.066]
amp_ant16 = [0.344, 0.700, 0.880, 0.960, 1.000, 1.020, 1.030, 1.038, 1.042, 1.045, 1.048, 1.050, 1.052]
amp_ant17 = [0.268, 0.660, 0.900, 0.985, 1.030, 1.055, 1.068, 1.075, 1.080, 1.083, 1.085, 1.086, 1.088]
amp_ant18 = [0.290, 0.690, 0.890, 0.975, 1.030, 1.055, 1.068, 1.074, 1.078, 1.080, 1.082, 1.083, 1.084]
amp_ant19 = [0.274, 0.655, 0.840, 0.950, 1.000, 1.030, 1.045, 1.052, 1.056, 1.058, 1.060, 1.061, 1.062]
amp_ant20 = [0.280, 0.694, 0.870, 0.955, 1.010, 1.035, 1.048, 1.055, 1.059, 1.062, 1.064, 1.065, 1.066]
amp_ant21 = [0.318, 0.700, 0.880, 0.970, 1.030, 1.052, 1.063, 1.069, 1.072, 1.074, 1.075, 1.076, 1.077]
amp_ant22 = [0.312, 0.630, 0.880, 0.965, 1.025, 1.050, 1.062, 1.068, 1.071, 1.073, 1.075, 1.076, 1.076]
amp_ant23 = [0.300, 0.680, 0.900, 0.975, 1.010, 1.030, 1.040, 1.045, 1.050, 1.055, 1.058, 1.060, 1.060]
amp_ant24 = [0.248, 0.630, 0.860, 0.970, 1.020, 1.045, 1.060, 1.068, 1.072, 1.075, 1.078, 1.080, 1.080]
amp_ant25 = [0.280, 0.660, 0.850, 0.960, 1.015, 1.045, 1.060, 1.068, 1.072, 1.075, 1.077, 1.078, 1.079]
amp_ant26 = [0.302, 0.712, 0.900, 0.985, 1.035, 1.058, 1.070, 1.076, 1.080, 1.082, 1.084, 1.085, 1.086]
amp_ant27 = [0.268, 0.640, 0.845, 0.945, 1.000, 1.028, 1.042, 1.050, 1.054, 1.057, 1.059, 1.060, 1.061]

phase_series = [phase_ant01, phase_ant02, phase_ant03, phase_ant05, phase_ant06, phase_ant07,
                phase_ant08, phase_ant09, phase_ant10, phase_ant11, phase_ant12, phase_ant13,
                phase_ant14, phase_ant15, phase_ant16, phase_ant17, phase_ant18, phase_ant19,
                phase_ant20, phase_ant21, phase_ant22, phase_ant23, phase_ant24, phase_ant25,
                phase_ant26, phase_ant27]
amp_series = [amp_ant01, amp_ant02, amp_ant03, amp_ant05, amp_ant06, amp_ant07, amp_ant08,
              amp_ant09, amp_ant10, amp_ant11, amp_ant12, amp_ant13, amp_ant14, amp_ant15,
              amp_ant16, amp_ant17, amp_ant18, amp_ant19, amp_ant20, amp_ant21, amp_ant22,
              amp_ant23, amp_ant24, amp_ant25, amp_ant26, amp_ant27]

title_parts = ["Table=\u00a0cal.B", "Type=\u00a0B\u00a0Jones", "Polarization=\u00a01"]
subtitle = "Fields\u00a0=\u00a04"
x_title = "Channel number"
phase_title = "Phase (degrees)"
amp_title = "Amplitude"
phase_tickvals = [-20, 0, 20, 40]
phase_ticktext = ["-20", "0", "20", "40"]

# ---------------- styling ----------------
TICK_FONT = "Liberation Sans, Arial, sans-serif"
LABEL_FONT = "DejaVu Sans, Verdana, sans-serif"
MONO_FONT = "DejaVu Sans Mono, Liberation Mono, monospace"


def fx(p):
    return p / FIG_W


def fy(p):
    return 1 - p / FIG_H


fig = go.Figure()

for name, color, amp in zip(antenna_names, antenna_colors, amp_series):
    fig.add_trace(go.Scatter(x=amp_channels, y=amp, mode="markers",
                             marker=dict(color=color, size=12, symbol="octagon", line=dict(width=0)),
                             xaxis="x", yaxis="y", name=name, hoverinfo="skip"))

for name, color, ph in zip(antenna_names, antenna_colors, phase_series):
    fig.add_trace(go.Scatter(x=channels, y=ph, mode="markers",
                             marker=dict(color=color, size=13, symbol="octagon", line=dict(width=0)),
                             xaxis="x2", yaxis="y2", name=name, hoverinfo="skip"))

common = dict(showline=True, linecolor="white", linewidth=2, showgrid=False, zeroline=False,
              ticks="inside", tickcolor="white", tickwidth=2, ticklen=15,
              tickfont=dict(family=TICK_FONT, size=27, color="white"))


def minor(dt):
    return dict(tickmode="linear", tick0=0, dtick=dt, ticks="inside", ticklen=7,
                tickcolor="white", tickwidth=2, showgrid=False)


fig.update_layout(
    width=FIG_W, height=FIG_H, autosize=False,
    margin=dict(l=0, r=0, t=0, b=0, pad=0),
    paper_bgcolor="black", plot_bgcolor="black", showlegend=False,
    xaxis=dict(domain=[fx(138), fx(306)], range=[-5.6, 12.47], anchor="y",
               tickmode="linear", tick0=0, dtick=20, minor=minor(10), mirror="allticks",
               ticklabelstandoff=3, **common),
    yaxis=dict(domain=[fy(1046), fy(125)], range=[0.111, 1.222], anchor="x",
               tickmode="linear", tick0=0, dtick=0.2, minor=minor(0.1), mirror=False,
               tickangle=-90, ticklabelstandoff=9, **common),
    xaxis2=dict(domain=[fx(444), fx(1743)], range=[-5.4, 132.8], anchor="y2",
                tickmode="linear", tick0=0, dtick=20, minor=minor(10), mirror="allticks",
                ticklabelstandoff=3, **common),
    yaxis2=dict(domain=[fy(1043), fy(126)], range=[-25.6, 50.4], anchor="x2",
                tickmode="array", tickvals=phase_tickvals, ticktext=phase_ticktext,
                minor=minor(10), mirror="allticks", tickangle=-90, ticklabelstandoff=1,
                **common),
)

# window frames (two overlapping plot windows)
LIGHT = "#cfcfcf"
DARK = "#3c3c3c"
frames = [
    (0, 0, 306, 6, LIGHT), (0, 0, 6, FIG_H, LIGHT),
    (6, 6, 306, 13, DARK), (6, 6, 13, FIG_H, DARK),
    (306, 0, FIG_W, 6, LIGHT), (306, 0, 312, FIG_H, LIGHT),
    (312, 6, FIG_W, 12, DARK), (312, 6, 318, FIG_H, DARK),
    (312, 1151, FIG_W, FIG_H, "#505050"),
]
for x0, y0, x1, y1, c in frames:
    fig.add_shape(type="rect", xref="paper", yref="paper", x0=fx(x0), x1=fx(x1),
                  y0=fy(y1), y1=fy(y0), fillcolor=c, line=dict(width=0), layer="above")

ann = []
title_centers = [838, 1072, 1328]
for txt, cx in zip(title_parts, title_centers):
    ann.append(dict(text=txt, x=fx(cx), y=fy(53), xref="paper", yref="paper",
                    xanchor="center", yanchor="middle", showarrow=False,
                    font=dict(family=LABEL_FONT, size=27, color="white")))
ann.append(dict(text=subtitle, x=fx(1094), y=fy(97.5), xref="paper", yref="paper",
                xanchor="center", yanchor="middle", showarrow=False,
                font=dict(family=LABEL_FONT, size=27, color="white")))
ann.append(dict(text=x_title, x=fx(1096), y=fy(1128), xref="paper", yref="paper",
                xanchor="center", yanchor="middle", showarrow=False,
                font=dict(family=LABEL_FONT, size=27, color="white")))
ann.append(dict(text=phase_title, x=fx(375), y=fy(584), xref="paper", yref="paper",
                xanchor="center", yanchor="middle", showarrow=False, textangle=-90,
                font=dict(family=LABEL_FONT, size=27, color="white")))
ann.append(dict(text=amp_title, x=fx(67), y=fy(586), xref="paper", yref="paper",
                xanchor="center", yanchor="middle", showarrow=False, textangle=-90,
                font=dict(family=LABEL_FONT, size=27, color="white")))

for i, (name, color) in enumerate(zip(antenna_names, antenna_colors)):
    ann.append(dict(text=name + " " + spw_label, x=fx(1772), y=fy(127 + i * 28.9),
                    xref="paper", yref="paper", xanchor="left", yanchor="middle",
                    showarrow=False, font=dict(family=MONO_FONT, size=26, color=color)))

fig.update_layout(annotations=ann)

fig.write_html("out.html",
               config={"displayModeBar": False, "staticPlot": True},
               post_script="document.body.style.margin='0px';"
                           "document.body.style.padding='0px';"
                           "document.body.style.overflow='hidden';"
                           "document.body.style.backgroundColor='black';")
